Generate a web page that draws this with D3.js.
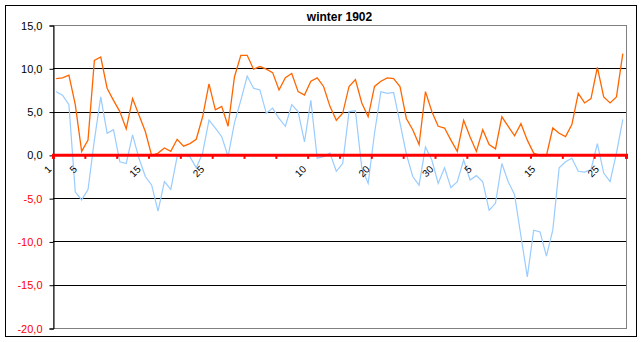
<!DOCTYPE html>
<html><head><meta charset="utf-8">
<script src="https://cdn.jsdelivr.net/npm/d3@7/dist/d3.min.js"></script>
<style>body{margin:0;background:#fff}svg{display:block}</style></head>
<body><svg id="c" width="642" height="342"></svg>
<script>
const title = "winter 1902";
const maxTemp = [8.8,8.9,9.2,5.8,0.4,1.7,10.9,11.3,7.7,6.3,
  5.0,3.0,6.5,4.6,2.7,-0.1,0.2,0.8,0.4,1.8,
  1.0,1.3,1.8,4.4,8.2,5.2,5.6,3.3,9.0,11.5,
  11.5,9.9,10.2,9.9,9.5,7.5,8.9,9.4,7.3,6.9,
  8.5,8.9,7.9,5.6,4.0,4.8,7.9,8.7,6.0,4.4,
  7.9,8.5,8.9,8.8,7.9,4.2,2.9,1.2,7.3,5.0,
  3.3,3.1,1.7,0.4,4.0,2.1,0.4,2.9,1.2,0.7,
  4.4,3.3,2.2,3.6,1.7,0.2,-0.1,-0.1,3.1,2.5,
  2.1,3.5,7.1,6.0,6.5,10.1,6.7,6.0,6.7,11.7];
const minTemp = [7.3,6.9,5.8,-4.3,-5.2,-4.0,1.7,6.7,2.5,2.9,
  -0.8,-1.0,2.3,-0.4,-2.5,-3.5,-6.5,-3.1,-4.0,-0.2,
  -0.1,-0.2,-1.5,0.2,4.0,3.1,2.1,-0.2,3.7,6.3,
  9.1,7.7,7.5,4.8,5.4,4.2,3.3,5.8,5.0,1.5,
  6.3,-0.4,-0.2,0.2,-1.9,-1.0,5.0,5.1,-1.5,-3.3,
  2.5,7.3,7.1,7.2,3.7,0.1,-2.5,-3.5,0.9,-0.6,
  -3.3,-1.5,-3.8,-3.1,-0.6,-2.9,-2.4,-3.1,-6.4,-5.6,
  -1.0,-3.1,-4.6,-9.4,-14.1,-8.7,-8.9,-11.7,-8.7,-1.5,
  -0.8,-0.4,-1.9,-2.0,-1.7,1.3,-2.1,-3.1,0.2,4.1];
const yTicks = [-20,-15,-10,-5,0,5,10,15];
const xLabelIndex = [0,4,14,24,40,50,60,66,76,86];
const xLabelText = ["1","5","15","25","10","20","30","5","15","25"];

const svg = d3.select("#c");
const L = 53, R = 626, T = 25, B = 328;
const n = maxTemp.length;
const x = d3.scaleLinear().domain([0, n]).range([L, R]);
const y = d3.scaleLinear().domain([-20, 15]).range([B, T]);
const font = "Arial, 'Liberation Sans', sans-serif";

svg.append("rect").attr("x",5.5).attr("y",5.5).attr("width",631).attr("height",331)
  .attr("fill","#fff").attr("stroke","#000").attr("stroke-width",1);

svg.append("text").attr("x",(L+R)/2).attr("y",21).attr("text-anchor","middle")
  .attr("font-family",font).attr("font-size",12).attr("font-weight","bold").text(title);

svg.append("rect").attr("x",L+0.5).attr("y",T+0.5).attr("width",R-L).attr("height",B-T)
  .attr("fill","none").attr("stroke","#808080").attr("stroke-width",1);

svg.append("g").selectAll("line").data(yTicks.filter(d=>d!==0 && d!==-20 && d!==15)).join("line")
  .attr("x1",L).attr("x2",R).attr("y1",d=>Math.round(y(d))+0.5).attr("y2",d=>Math.round(y(d))+0.5)
  .attr("stroke","#000").attr("stroke-width",1);

const yAxis = d3.axisLeft(y).tickValues(yTicks).tickSize(4).tickPadding(7)
  .tickFormat(d=>d3.format(".1f")(d).replace(".",",").replace("−","-"));
const gy = svg.append("g").attr("transform",`translate(${L+0.5},0.5)`).call(yAxis);
gy.select(".domain").attr("stroke","#000");
gy.selectAll(".tick line").attr("stroke","#000");
gy.selectAll(".tick text").attr("font-family",font).attr("font-size",11)
  .attr("fill",d=>d<0?"#ff0000":"#000");

const line = d3.line().x((d,i)=>x(i+0.5)).y(d=>y(d));
svg.append("path").datum(minTemp).attr("d",line).attr("fill","none")
  .attr("stroke","#99ccff").attr("stroke-width",1.2);
svg.append("path").datum(maxTemp).attr("d",line).attr("fill","none")
  .attr("stroke","#ff6600").attr("stroke-width",1.3);

const xAxis = d3.axisBottom(x).tickValues(d3.range(0, n+1, 5)).tickSize(4).tickFormat("");
const gx = svg.append("g").attr("transform",`translate(0,${y(0)})`).call(xAxis);
gx.select(".domain").attr("stroke","#ff0000").attr("stroke-width",3);
gx.selectAll(".tick line").attr("stroke","#ff0000").attr("stroke-width",2);

svg.append("g").selectAll("text").data(xLabelIndex).join("text")
  .attr("transform",(d)=>`translate(${x(d+0.5)-4},${y(0)+15}) rotate(-45)`)
  .attr("text-anchor","end").attr("font-family",font).attr("font-size",10)
  .attr("fill","#000").text((d,i)=>xLabelText[i]);
</script></body></html>
